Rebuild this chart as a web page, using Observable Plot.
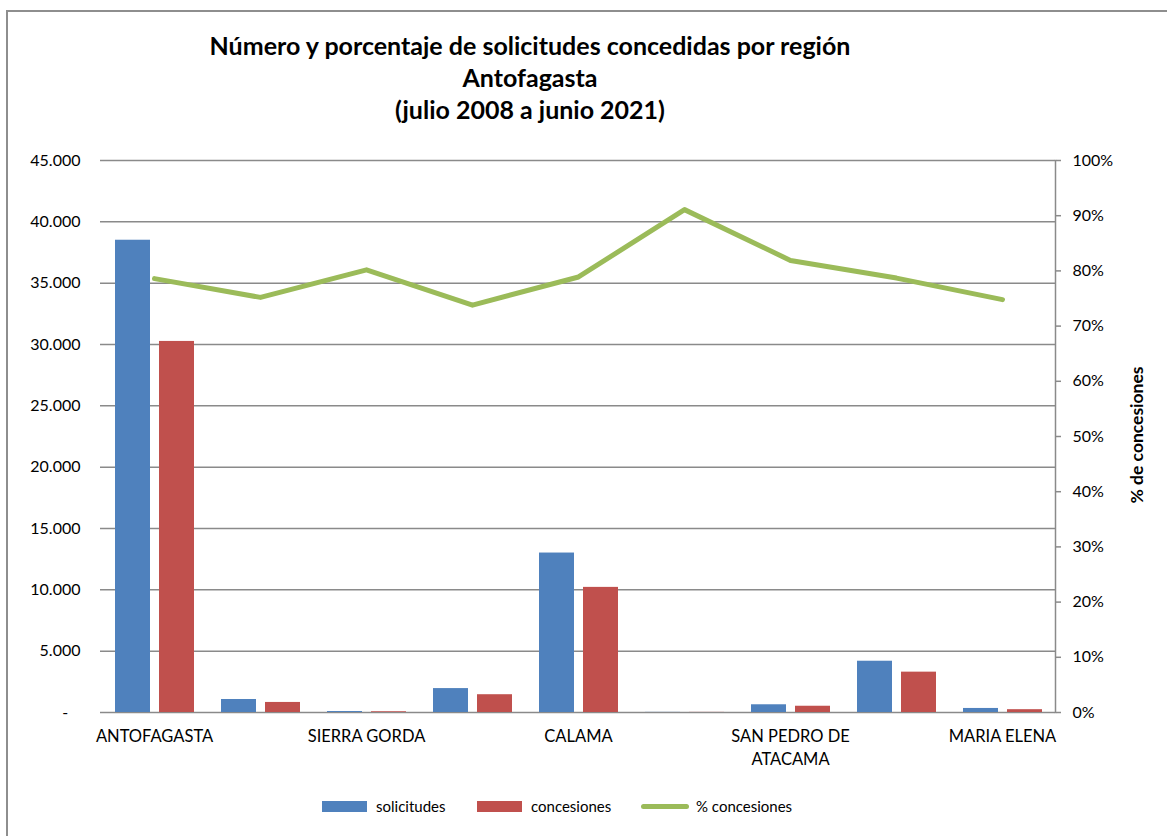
<!DOCTYPE html>
<html>
<head>
<meta charset="utf-8">
<script src="https://cdn.jsdelivr.net/npm/d3@7"></script>
<script src="https://cdn.jsdelivr.net/npm/@observablehq/plot@0.6"></script>
<style>
  html, body { margin: 0; padding: 0; background: #fff; }
  body { width: 1167px; height: 836px; overflow: hidden; position: relative; font-family: Lato, "Open Sans", sans-serif; }
  #frame { position: absolute; left: 6px; top: 10px; width: 1200px; height: 900px; border-left: 2px solid #8e8e8e; border-top: 2px solid #8e8e8e; }
  #title { position: absolute; left: 80px; width: 900px; top: 29px; text-align: center; font-weight: bold; font-size: 25px; line-height: 32px; color: #000; }
  #chart { position: absolute; left: 0; top: 140px; }
  #legend { position: absolute; top: 795px; left: 0; width: 1167px; height: 22px; font-size: 15px; color: #000; }
  .li { position: absolute; top: 0; display: flex; align-items: center; height: 22px; }
  .sw { width: 45px; height: 11px; margin-right: 9px; }
  .ln { width: 48px; height: 5px; border-radius: 3px; margin-right: 7px; }
  #ytitle { position: absolute; left: 1136px; top: 435px; transform: translate(-50%, -50%) rotate(-90deg); font-weight: bold; font-size: 17.5px; white-space: nowrap; }
</style>
</head>
<body>
<div id="frame"></div>
<div id="title">Número y porcentaje de solicitudes concedidas por región<br>Antofagasta<br>(julio 2008 a junio 2021)</div>
<div id="chart"></div>
<div id="ytitle">% de concesiones</div>
<div id="legend"></div>
<script>
// Data
const communes = ["ANTOFAGASTA", "MEJILLONES", "SIERRA GORDA", "TALTAL", "CALAMA", "OLLAGÜE", "SAN PEDRO DE ATACAMA", "TOCOPILLA", "MARIA ELENA"];
const shownLabels = ["ANTOFAGASTA", "", "SIERRA GORDA", "", "CALAMA", "", "SAN PEDRO DE\nATACAMA", "", "MARIA ELENA"];
const solicitudes = [38500, 1060, 80, 1950, 13000, 10, 630, 4180, 330];
const concesiones = [30250, 820, 60, 1450, 10200, 9, 510, 3290, 230];
const pctConcesiones = [78.6, 75.2, 80.2, 73.8, 78.9, 91.1, 81.9, 78.7, 74.8];
const leftTicks = [0, 5000, 10000, 15000, 20000, 25000, 30000, 35000, 40000, 45000];
const rightTicks = [0, 10, 20, 30, 40, 50, 60, 70, 80, 90, 100];
const seriesNames = ["solicitudes", "concesiones", "% concesiones"];
const colors = ["#4F81BD", "#C0504D", "#9BBB59"];

const yMax = 45000;
const rows = communes.map((c, i) => ({commune: c, solicitudes: solicitudes[i], concesiones: concesiones[i], pct: pctConcesiones[i], pctY: pctConcesiones[i] * yMax / 100}));
const fmt = d3.formatLocale({decimal: ",", thousands: ".", grouping: [3], currency: ["", ""]}).format(",");

const grid = "#8a8a8a";
const chart = Plot.plot({
  width: 1167,
  height: 640,
  marginLeft: 100,
  marginRight: 112,
  marginTop: 20,
  marginBottom: 68,
  style: {fontFamily: "Lato, 'Open Sans', sans-serif", fontSize: "16px", color: "#000", background: "transparent"},
  x: {domain: communes, padding: 0, label: null},
  y: {domain: [0, yMax], label: null},
  marks: [
    Plot.gridY(leftTicks, {stroke: grid, strokeOpacity: 1, strokeWidth: 1.5}),
    Plot.barY(rows, {x: "commune", y: "solicitudes", fill: colors[0], insetLeft: 14, insetRight: 57}),
    Plot.barY(rows, {x: "commune", y: "concesiones", fill: colors[1], insetLeft: 58, insetRight: 13}),
    Plot.line(rows, {x: "commune", y: "pctY", stroke: colors[2], strokeWidth: 5, strokeLinejoin: "round", strokeLinecap: "round"}),
    Plot.axisY(leftTicks, {anchor: "left", tickSize: 0, tickPadding: 20, tickFormat: d => d === 0 ? "-\u00a0\u00a0\u00a0" : fmt(d), fontSize: 16}),
    Plot.axisY(rightTicks.map(p => p * yMax / 100), {anchor: "right", tickSize: 5, stroke: grid, strokeWidth: 1.5, tickPadding: 12, textAnchor: "start", tickFormat: d => Math.round(d * 100 / yMax) + "%", fontSize: 16}),
    Plot.frame({anchor: "right", stroke: grid, strokeWidth: 1.5}),
    Plot.axisX({anchor: "bottom", tickSize: 0, tickPadding: 14, tickFormat: (d, i) => shownLabels[communes.indexOf(d)], fontSize: 16.5, lineHeight: 1.35})
  ]
});
document.getElementById("chart").appendChild(chart);

// Legend
const legend = document.getElementById("legend");
const items = [
  {left: 322, kind: "sw"},
  {left: 477, kind: "sw"},
  {left: 641, kind: "ln"}
];
items.forEach((it, i) => {
  const d = document.createElement("div");
  d.className = "li";
  d.style.left = it.left + "px";
  const s = document.createElement("div");
  s.className = it.kind;
  s.style.background = colors[i];
  d.appendChild(s);
  const t = document.createElement("span");
  t.textContent = seriesNames[i];
  d.appendChild(t);
  legend.appendChild(d);
});
</script>
</body>
</html>
